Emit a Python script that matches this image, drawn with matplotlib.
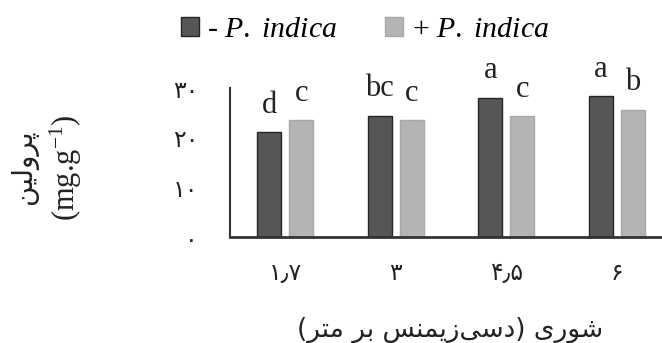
import numpy as np
import matplotlib
matplotlib.use("Agg")
import matplotlib.pyplot as plt
from matplotlib.ticker import FuncFormatter

# ---------------- data ----------------
salinity = ["1.7", "3", "4.5", "6"]
minus_pi = [21.1, 24.4, 28.0, 28.4]
plus_pi = [23.5, 23.5, 24.3, 25.6]
letters_minus = ["d", "bc", "a", "a"]
letters_plus = ["c", "c", "c", "b"]
yticks = [0, 10, 20, 30]
label_minus = r"- $\mathit{P.\ indica}$"
label_plus = r"+ $\mathit{P.\ indica}$"
ylabel_fa = "پرولین"
ylabel_unit = r"(mg.g$^{\mathregular{-1}}$)"
xlabel_fa = "شوری (دسی‌زیمنس بر متر)"

# ---------------- Persian helpers ----------------
FORMS = {
    'ا': ('\uFE8D', '\uFE8E', None, None),
    'ب': ('\uFE8F', '\uFE90', '\uFE91', '\uFE92'),
    'پ': ('\uFB56', '\uFB57', '\uFB58', '\uFB59'),
    'ت': ('\uFE95', '\uFE96', '\uFE97', '\uFE98'),
    'د': ('\uFEA9', '\uFEAA', None, None),
    'ر': ('\uFEAD', '\uFEAE', None, None),
    'ز': ('\uFEAF', '\uFEB0', None, None),
    'س': ('\uFEB1', '\uFEB2', '\uFEB3', '\uFEB4'),
    'ش': ('\uFEB5', '\uFEB6', '\uFEB7', '\uFEB8'),
    'ل': ('\uFEDD', '\uFEDE', '\uFEDF', '\uFEE0'),
    'م': ('\uFEE1', '\uFEE2', '\uFEE3', '\uFEE4'),
    'ن': ('\uFEE5', '\uFEE6', '\uFEE7', '\uFEE8'),
    'و': ('\uFEED', '\uFEEE', None, None),
    'ی': ('\uFBFC', '\uFBFD', '\uFBFE', '\uFBFF'),
}


def shape_fa(s):
    out = []
    n = len(s)
    for i, ch in enumerate(s):
        if ch not in FORMS:
            if ch != '\u200c':
                out.append(ch)
            continue
        iso, fin, ini, med = FORMS[ch]
        prev = s[i - 1] if i > 0 else None
        nxt = s[i + 1] if i < n - 1 else None
        pj = prev in FORMS and FORMS[prev][2] is not None
        nj = (nxt in FORMS) and ini is not None
        if pj and nj:
            out.append(med)
        elif pj:
            out.append(fin)
        elif nj:
            out.append(ini)
        else:
            out.append(iso)
    vis = ''.join(reversed(out))
    return vis.translate(str.maketrans('()', ')('))


FA_DIGITS = str.maketrans('0123456789.', '۰۱۲۳۴۵۶۷۸۹٫')


def fa_num(s):
    return str(s).translate(FA_DIGITS)


# ---------------- style ----------------
plt.rcParams['mathtext.fontset'] = 'custom'
plt.rcParams['mathtext.rm'] = 'Liberation Serif'
plt.rcParams['mathtext.it'] = 'Liberation Serif:italic'
SERIF = 'Liberation Serif'
FA = ['DejaVu Sans']

fig = plt.figure(figsize=(6.62, 3.43), dpi=100)
ax = fig.add_axes([230 / 662, 1 - 237 / 343, 442 / 662, 149 / 343])

x = np.arange(len(salinity))
w = 0.215
off = 0.145
dark = '#565656'
light = '#b4b4b4'
b1 = ax.bar(x - off, minus_pi, w, color=dark, edgecolor='#262626', linewidth=1.0, label=label_minus)
b2 = ax.bar(x + off, plus_pi, w, color=light, edgecolor='#a8a8a8', linewidth=1.0, label=label_plus)

for xi, v, t in zip(x - off, minus_pi, letters_minus):
    ax.annotate(t, (xi, v), xytext=(0, 14.0), textcoords='offset points',
                ha='center', va='baseline', fontsize=22, family=SERIF, color='#222222')
for xi, v, t in zip(x + off, plus_pi, letters_plus):
    ax.annotate(t, (xi, v), xytext=(0, 14.0), textcoords='offset points',
                ha='center', va='baseline', fontsize=22, family=SERIF, color='#222222')

ax.set_xlim(-0.5, 3.5)
ax.set_ylim(0, 30)
ax.set_yticks(yticks)
ax.yaxis.set_major_formatter(FuncFormatter(lambda v, p: fa_num(int(v))))
ax.set_xticks(x)
ax.set_xticklabels([fa_num(s) for s in salinity])
for lab in ax.get_yticklabels():
    lab.set_family(FA)
    lab.set_fontsize(17)
for lab in ax.get_xticklabels():
    lab.set_family(FA)
    lab.set_fontsize(17)
ax.tick_params(axis='y', length=0, pad=23, colors='#222222')
ax.tick_params(axis='x', length=0, pad=17, colors='#222222')

for s in ['top', 'right']:
    ax.spines[s].set_visible(False)
ax.spines['left'].set_linewidth(1.5)
ax.spines['bottom'].set_linewidth(2.0)
ax.spines['left'].set_color('#333333')
ax.spines['bottom'].set_color('#333333')

fig.text(24 / 662, 1 - 167 / 343, shape_fa(ylabel_fa), rotation=90, ha='center', va='center',
         family=FA, fontsize=20, color='#222222')
fig.text(66 / 662, 1 - 168 / 343, ylabel_unit, rotation=90, ha='center', va='center',
         family=SERIF, fontsize=22, color='#222222')
fig.text(450 / 662, 1 - 330 / 343, shape_fa(xlabel_fa), ha='center', va='center',
         family=FA, fontsize=19, color='#222222')

leg = fig.legend(handles=[b1, b2], loc='center', bbox_to_anchor=(365 / 662, 1 - 30 / 343),
                 ncol=2, frameon=False, prop={'family': SERIF, 'size': 21.5},
                 handlelength=0.6, handleheight=0.6, handletextpad=0.3, columnspacing=1.6,
                 borderaxespad=0, borderpad=0)

fig.savefig('out.png', dpi=100)
